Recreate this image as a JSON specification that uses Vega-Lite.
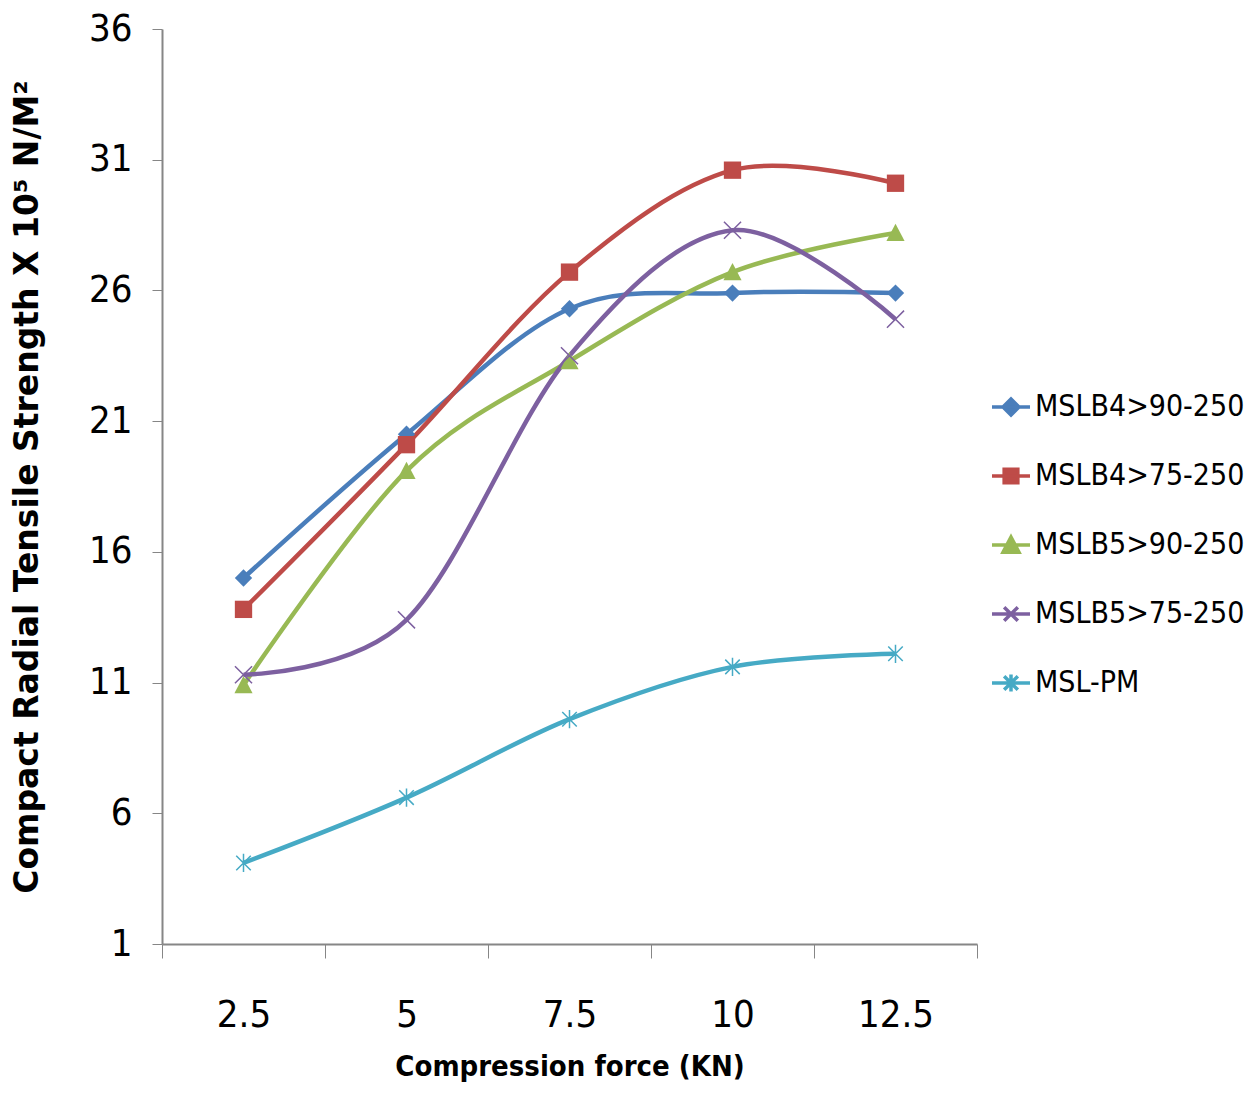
{
  "$schema": "https://vega.github.io/schema/vega-lite/v6.json",
  "width": 815,
  "height": 915,
  "autosize": {"type": "none"},
  "padding": {"left": 162, "top": 29, "right": 273, "bottom": 149},
  "background": "white",
  "config": {
    "view": {"stroke": null},
    "font": "'Liberation Sans Narrow', 'DejaVu Sans Condensed', 'Roboto Condensed', Lato, sans-serif"
  },
  "data": {
    "values": [
      {"force": 2.5, "value": 15.0, "series": "MSLB4>90-250"},
      {"force": 5, "value": 20.5, "series": "MSLB4>90-250"},
      {"force": 7.5, "value": 25.3, "series": "MSLB4>90-250"},
      {"force": 10, "value": 25.9, "series": "MSLB4>90-250"},
      {"force": 12.5, "value": 25.9, "series": "MSLB4>90-250"},
      {"force": 2.5, "value": 13.8, "series": "MSLB4>75-250"},
      {"force": 5, "value": 20.1, "series": "MSLB4>75-250"},
      {"force": 7.5, "value": 26.7, "series": "MSLB4>75-250"},
      {"force": 10, "value": 30.6, "series": "MSLB4>75-250"},
      {"force": 12.5, "value": 30.1, "series": "MSLB4>75-250"},
      {"force": 2.5, "value": 10.9, "series": "MSLB5>90-250"},
      {"force": 5, "value": 19.1, "series": "MSLB5>90-250"},
      {"force": 7.5, "value": 23.3, "series": "MSLB5>90-250"},
      {"force": 10, "value": 26.7, "series": "MSLB5>90-250"},
      {"force": 12.5, "value": 28.2, "series": "MSLB5>90-250"},
      {"force": 2.5, "value": 11.3, "series": "MSLB5>75-250"},
      {"force": 5, "value": 13.4, "series": "MSLB5>75-250"},
      {"force": 7.5, "value": 23.5, "series": "MSLB5>75-250"},
      {"force": 10, "value": 28.3, "series": "MSLB5>75-250"},
      {"force": 12.5, "value": 24.9, "series": "MSLB5>75-250"},
      {"force": 2.5, "value": 4.1, "series": "MSL-PM"},
      {"force": 5, "value": 6.6, "series": "MSL-PM"},
      {"force": 7.5, "value": 9.6, "series": "MSL-PM"},
      {"force": 10, "value": 11.6, "series": "MSL-PM"},
      {"force": 12.5, "value": 12.1, "series": "MSL-PM"}
    ]
  },
  "encoding": {
    "x": {
      "field": "force",
      "type": "quantitative",
      "scale": {"domain": [1.25, 13.75], "nice": false, "zero": false},
      "axis": {
        "title": "Compression force (KN)",
        "values": [1.25, 2.5, 3.75, 5, 6.25, 7.5, 8.75, 10, 11.25, 12.5, 13.75],
        "labelExpr": "datum.value % 2.5 === 0 ? format(datum.value, '~g') : ''",
        "tickOpacity": {"condition": {"test": "datum.value % 2.5 === 0", "value": 0}, "value": 1},
        "grid": false,
        "tickSize": 14,
        "tickColor": "#868686",
        "tickWidth": 1,
        "domainColor": "#868686",
        "domainWidth": 2,
        "labelFontSize": 38,
        "labelColor": "#000000",
        "labelPadding": 38,
        "labelFlush": false,
        "labelOverlap": false,
        "titleFontSize": 29,
        "titleFontWeight": "bold",
        "titleColor": "#000000",
        "titlePadding": 18
      }
    },
    "y": {
      "field": "value",
      "type": "quantitative",
      "scale": {"domain": [1, 36], "nice": false, "zero": false},
      "axis": {
        "title": "Compact Radial Tensile Strength X 10⁵ N/M²",
        "values": [1, 6, 11, 16, 21, 26, 31, 36],
        "grid": false,
        "tickSize": 10,
        "tickColor": "#868686",
        "domainColor": "#868686",
        "domainWidth": 2,
        "labelFontSize": 38,
        "labelColor": "#000000",
        "labelPadding": 20,
        "labelFlush": false,
        "labelOverlap": false,
        "titleFont": "'DejaVu Sans', Verdana, sans-serif",
        "titleFontSize": 33,
        "titleFontWeight": "bold",
        "titleColor": "#000000",
        "titlePadding": 44
      }
    },
    "color": {
      "field": "series",
      "type": "nominal",
      "sort": ["MSLB4>90-250", "MSLB4>75-250", "MSLB5>90-250", "MSLB5>75-250", "MSL-PM"],
      "scale": {
        "domain": ["MSLB4>90-250", "MSLB4>75-250", "MSLB5>90-250", "MSLB5>75-250", "MSL-PM"],
        "range": ["#4A7EBB", "#BE4B48", "#98B954", "#7D60A0", "#46AAC5"]
      },
      "legend": {
        "title": null,
        "orient": "none",
        "legendX": 828,
        "legendY": 357,
        "padding": 0,
        "symbolSize": 1444,
        "symbolStrokeWidth": 3.5,
        "labelFontSize": 30,
        "labelColor": "#000000",
        "labelOffset": 3,
        "rowPadding": 33,
        "labelLimit": 400,
        "encode": {
          "symbols": {
            "update": {
              "shape": {"signal": "datum.value === 'MSLB4>90-250' ? 'M-1,0L1,0M0,-0.42L0.42,0L0,0.42L-0.42,0Z' : datum.value === 'MSLB4>75-250' ? 'M-1,0L1,0M-0.36,-0.36L0.36,-0.36L0.36,0.36L-0.36,0.36Z' : datum.value === 'MSLB5>90-250' ? 'M-1,0L1,0M0,-0.42L0.42,0.38L-0.42,0.38Z' : datum.value === 'MSLB5>75-250' ? 'M-1,0L1,0M-0.36,-0.36L0.36,0.36M-0.36,0.36L0.36,-0.36' : 'M-1,0L1,0M-0.36,-0.36L0.36,0.36M-0.36,0.36L0.36,-0.36M0,-0.45L0,0.45'"},
              "fill": {"scale": "color", "field": "value"},
              "stroke": {"scale": "color", "field": "value"},
              "strokeWidth": {"value": 3.5},
              "opacity": {"value": 1},
              "fillOpacity": {"value": 1},
              "strokeOpacity": {"value": 1}
            }
          }
        }
      }
    }
  },
  "layer": [
    {
      "mark": {"type": "line", "interpolate": "cardinal", "strokeWidth": 4.5}
    },
    {
      "transform": [{"filter": "datum.series === 'MSLB4>90-250'"}],
      "mark": {"type": "point", "filled": true, "opacity": 1, "size": 300, "shape": "diamond"}
    },
    {
      "transform": [{"filter": "datum.series === 'MSLB4>75-250'"}],
      "mark": {"type": "point", "filled": true, "opacity": 1, "size": 300, "shape": "square"}
    },
    {
      "transform": [{"filter": "datum.series === 'MSLB5>90-250'"}],
      "mark": {"type": "point", "filled": true, "opacity": 1, "size": 330, "shape": "M0,-1L1,0.9L-1,0.9Z"}
    },
    {
      "transform": [{"filter": "datum.series === 'MSLB5>75-250'"}],
      "mark": {"type": "point", "filled": false, "opacity": 1, "strokeWidth": 1.5, "size": 360, "shape": "M-0.9,-0.9L0.9,0.9M-0.9,0.9L0.9,-0.9"}
    },
    {
      "transform": [{"filter": "datum.series === 'MSL-PM'"}],
      "mark": {"type": "point", "filled": false, "opacity": 1, "strokeWidth": 1.5, "size": 330, "shape": "M-0.8,-0.8L0.8,0.8M-0.8,0.8L0.8,-0.8M0,-1L0,1"}
    }
  ]
}
